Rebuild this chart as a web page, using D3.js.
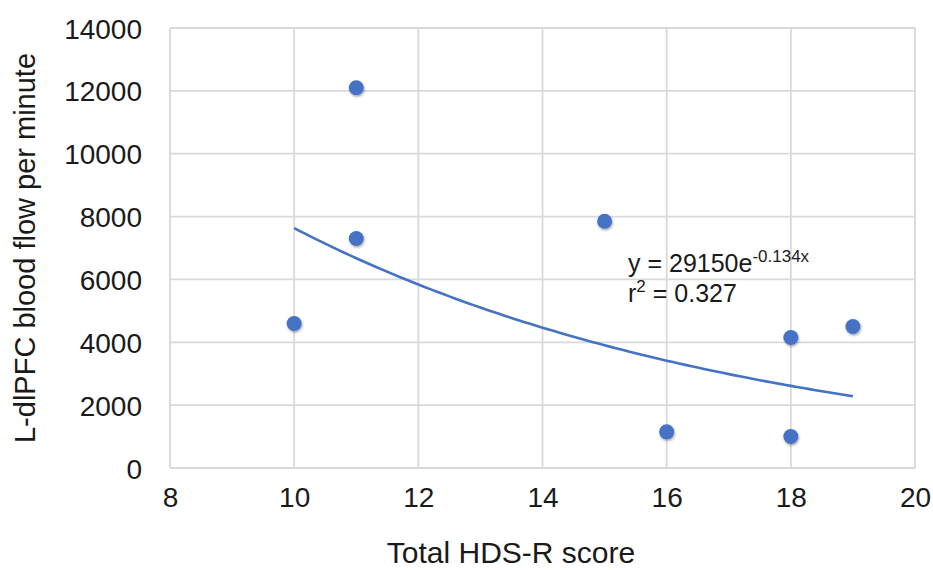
<!DOCTYPE html>
<html>
<head>
<meta charset="utf-8">
<script src="https://cdn.jsdelivr.net/npm/d3@7"></script>
<style>
  html, body { margin: 0; padding: 0; background: #fff; }
  svg { display: block; font-family: "Liberation Sans", Arial, sans-serif; }
</style>
</head>
<body>
<svg id="chart" width="933" height="570"></svg>
<script>
// Total HDS-R score vs. L-dlPFC blood flow per minute
const hdsScores = [10, 11, 11, 15, 16, 18, 18, 19];
const bloodFlow = [4600, 12100, 7300, 7850, 1150, 4150, 1000, 4500];
const xTicks = [8, 10, 12, 14, 16, 18, 20];
const yTicks = [0, 2000, 4000, 6000, 8000, 10000, 12000, 14000];
// Exponential fit y = a * e^(b x)
const fitA = 29150;
const fitB = -0.134;
const fitR2 = 0.327;

const svg = d3.select("#chart");
const margin = { left: 170, right: 18, top: 28, bottom: 102 };
const W = 933, H = 570;
const FS = 28;
const ink = "#1a1a1a";

const x = d3.scaleLinear().domain([8, 20]).range([margin.left, W - margin.right]);
const y = d3.scaleLinear().domain([0, 14000]).range([H - margin.bottom, margin.top]);

const defs = svg.append("defs");
const shadow = defs.append("filter").attr("id", "dotShadow")
  .attr("x", "-50%").attr("y", "-50%").attr("width", "200%").attr("height", "200%");
shadow.append("feDropShadow").attr("dx", 0.8).attr("dy", 1.5)
  .attr("stdDeviation", 1.2).attr("flood-color", "#000").attr("flood-opacity", 0.35);

// Gridlines
const grid = svg.append("g");
grid.selectAll("line.h").data(yTicks).join("line")
  .attr("x1", x(8)).attr("x2", x(20))
  .attr("y1", d => y(d)).attr("y2", d => y(d))
  .attr("stroke", "#d9d9d9").attr("stroke-width", 1.8);
grid.selectAll("line.v").data(xTicks).join("line")
  .attr("y1", y(0)).attr("y2", y(14000))
  .attr("x1", d => x(d)).attr("x2", d => x(d))
  .attr("stroke", "#d9d9d9").attr("stroke-width", 1.8);

// Axes (labels only)
const xAxis = svg.append("g").attr("transform", `translate(0,${y(0)})`)
  .call(d3.axisBottom(x).tickValues(xTicks).tickSize(0).tickPadding(19));
const yAxis = svg.append("g").attr("transform", `translate(${x(8)},0)`)
  .call(d3.axisLeft(y).tickValues(yTicks).tickSize(0).tickPadding(28).tickFormat(d3.format("d")));
[xAxis, yAxis].forEach(a => {
  a.select(".domain").remove();
  a.selectAll("text").attr("font-size", FS).attr("fill", ink)
    .attr("font-family", "Liberation Sans, Arial, sans-serif");
});
xAxis.selectAll("text").attr("dy", "0.71em");
yAxis.selectAll("text").attr("dy", "0.36em");

// Trendline
const fitX = d3.range(10, 19.0001, 0.1);
const line = d3.line().x(d => x(d)).y(d => y(fitA * Math.exp(fitB * d)));
svg.append("path").datum(fitX).attr("d", line)
  .attr("fill", "none").attr("stroke", "#4472c4").attr("stroke-width", 2.6);

// Data points
svg.append("g").selectAll("circle").data(hdsScores.map((s, i) => [s, bloodFlow[i]])).join("circle")
  .attr("cx", d => x(d[0])).attr("cy", d => y(d[1])).attr("r", 7.5)
  .attr("fill", "#4472c4").attr("filter", "url(#dotShadow)");

// Fit equation
const eq = svg.append("text").attr("x", 628).attr("y", 272)
  .attr("font-size", 25).attr("fill", ink);
eq.append("tspan").text(`y = ${fitA}e`);
eq.append("tspan").attr("font-size", 17).attr("dy", -10).text(`${fitB}x`);
const r2 = svg.append("text").attr("x", 628).attr("y", 302)
  .attr("font-size", 25).attr("fill", ink);
r2.append("tspan").text("r");
r2.append("tspan").attr("font-size", 17).attr("dy", -10).text("2");
r2.append("tspan").attr("dy", 10).text(` = ${fitR2}`);

// Axis titles
svg.append("text").attr("x", 511).attr("y", 563)
  .attr("text-anchor", "middle").attr("font-size", FS + 2).attr("fill", ink)
  .text("Total HDS-R score");
svg.append("text").attr("transform", `translate(35,${(y(0) + y(14000)) / 2}) rotate(-90)`)
  .attr("text-anchor", "middle").attr("font-size", FS + 1).attr("fill", ink)
  .text("L-dlPFC blood flow per minute");
</script>
</body>
</html>
